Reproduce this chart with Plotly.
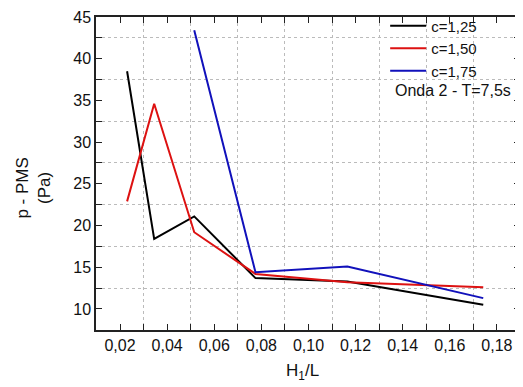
import plotly.graph_objects as go

x_black = [0.023, 0.0345, 0.0515, 0.0775, 0.1165, 0.1742]
y_black = [38.5, 18.4, 21.1, 13.7, 13.3, 10.5]
x_red = [0.023, 0.0345, 0.0515, 0.0775, 0.1165, 0.1742]
y_red = [22.9, 34.6, 19.2, 14.2, 13.2, 12.6]
x_blue = [0.0515, 0.0775, 0.1165, 0.1742]
y_blue = [43.4, 14.4, 15.1, 11.3]
names = ["c=1,25", "c=1,50", "c=1,75"]
colors = ["#000000", "#dd1111", "#1111bb"]

fig = go.Figure()
for xs, ys, n, c in zip([x_black, x_red, x_blue], [y_black, y_red, y_blue], names, colors):
    fig.add_trace(go.Scatter(x=xs, y=ys, mode="lines", name=n,
                             line=dict(color=c, width=2)))

txt = "#111111"
font = dict(family="Liberation Sans, Arial, sans-serif", size=16, color=txt)
fig.update_layout(
    width=515, height=379,
    margin=dict(l=88, r=3, t=9, b=57, autoexpand=False),
    paper_bgcolor="white", plot_bgcolor="white",
    separators=",.",
    font=font,
    showlegend=True,
    legend=dict(x=0.682, y=1.024, xanchor="left", yanchor="top",
                bgcolor="rgba(0,0,0,0)", borderwidth=0,
                font=dict(size=15, color=txt), tracegroupgap=0, itemwidth=36),
    annotations=[
        dict(text="Onda 2 - T=7,5s", xref="paper", yref="paper",
             x=0.983, y=0.764, xanchor="right", yanchor="middle",
             showarrow=False, font=dict(size=16, color=txt)),
        dict(text="p - PMS<br>(Pa)", xref="paper", yref="paper",
             x=-0.147, y=0.454, xanchor="center", yanchor="middle",
             textangle=-90, showarrow=False, font=dict(size=17, color=txt)),
        dict(text="H<sub>1</sub>/L", xref="paper", yref="paper",
             x=0.486, y=-0.134, xanchor="center", yanchor="middle",
             showarrow=False, font=dict(size=17, color=txt)),
    ],
)
fig.update_xaxes(
    range=[0.0098, 0.1898], dtick=0.02, tick0=0, tickformat=".2f",
    automargin=False,
    showline=True, linecolor="#222", linewidth=1.5, mirror="ticks",
    ticks="inside", ticklen=6, tickcolor="#222",
    showgrid=False, zeroline=False,
    minor=dict(dtick=0.01, tick0=0, ticks="inside", ticklen=6, tickcolor="#222",
               showgrid=True, gridcolor="#bbbbbb", griddash="dot", gridwidth=1),
)
fig.update_yaxes(
    range=[7.48, 45], dtick=5, tick0=0,
    automargin=False,
    showline=True, linecolor="#222", linewidth=1.5, mirror="ticks",
    ticks="inside", ticklen=6, tickcolor="#222",
    showgrid=False, zeroline=False,
    minor=dict(dtick=2.5, tick0=0, ticks="inside", ticklen=6, tickcolor="#222",
               showgrid=True, gridcolor="#bbbbbb", griddash="dot", gridwidth=1),
)
fig.write_html("out.html")
